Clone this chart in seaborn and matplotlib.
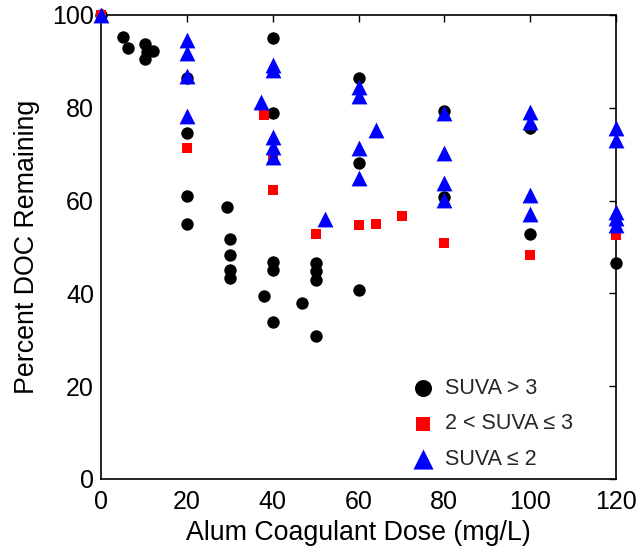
import matplotlib
matplotlib.use("Agg")
import matplotlib.pyplot as plt
import seaborn as sns
import pandas as pd

# SUVA > 3 (black circles)
dose_hi = [0, 5.1, 6.3, 10.3, 10.3, 10.7, 12.1, 20, 20, 20, 20, 29.4, 30, 30, 30, 30,
           38, 40, 40, 40, 40, 40, 46.9, 50, 50, 50, 50, 60, 60, 60, 80, 80, 100, 100, 120]
pct_hi = [100, 95.3, 92.9, 93.8, 90.5, 92.0, 92.2, 86.4, 74.6, 61.0, 55.0, 58.6, 51.7, 48.3, 45.0, 43.3,
          39.4, 33.8, 95.0, 78.9, 46.8, 45.0, 37.9, 46.6, 44.8, 42.9, 30.8, 86.4, 68.1, 40.7, 79.3, 60.8,
          75.6, 52.8, 46.6]

# 2 < SUVA <= 3 (red squares)
dose_mid = [0, 20, 37.9, 40, 40, 50, 60, 64.1, 70.2, 80, 100, 120]
pct_mid = [100, 71.3, 78.4, 62.3, 69.8, 52.8, 54.7, 55.0, 56.7, 50.9, 48.3, 52.6]

# SUVA <= 2 (blue triangles)
dose_lo = [0, 20, 20, 20, 20, 37.3, 40, 40, 40, 40, 40, 52.2, 60, 60, 60, 60, 64.1,
           80, 80, 80, 80, 100, 100, 100, 100, 120, 120, 120, 120, 120]
pct_lo = [100, 94.6, 91.8, 86.9, 78.2, 81.3, 89.2, 88.1, 73.7, 71.6, 69.4, 56.0, 84.4, 82.6, 71.3, 64.8, 75.2,
          78.9, 70.2, 63.8, 60.1, 79.1, 76.9, 61.2, 57.1, 75.6, 73.1, 57.5, 56.3, 54.7]

labels = ["SUVA > 3", "2 < SUVA \u2264 3", "SUVA \u2264 2"]

sns.set_theme(style="white")
plt.rcParams['font.family'] = ['Liberation Sans', 'DejaVu Sans']

fig = plt.figure(figsize=(6.4, 5.54), dpi=100)
ax = fig.add_axes([101/640, 75/554, 515/640, 464/554])

df_hi = pd.DataFrame({"dose": dose_hi, "pct": pct_hi})
df_mid = pd.DataFrame({"dose": dose_mid, "pct": pct_mid})
df_lo = pd.DataFrame({"dose": dose_lo, "pct": pct_lo})

sns.scatterplot(data=df_hi, x="dose", y="pct", ax=ax, color="black", marker="o", s=80,
                linewidth=0, label=labels[0], clip_on=False, zorder=3)
sns.scatterplot(data=df_mid, x="dose", y="pct", ax=ax, color="#ff0000", marker="s", s=55,
                linewidth=0, label=labels[1], clip_on=False, zorder=4)
sns.scatterplot(data=df_lo, x="dose", y="pct", ax=ax, color="#0000ff", marker="^", s=130,
                linewidth=0, label=labels[2], clip_on=False, zorder=5)

ax.set_xlim(0, 120)
ax.set_ylim(0, 100)
ax.set_xticks(range(0, 121, 20))
ax.set_yticks(range(0, 101, 20))
ax.tick_params(direction="in", length=5, width=1, top=True, right=True, labelsize=18,
               colors="black", pad=5)
ax.tick_params(axis="x", pad=8)
for sp in ax.spines.values():
    sp.set_visible(True)
    sp.set_color("black")
    sp.set_linewidth(1.2)

ax.set_xlabel("Alum Coagulant Dose (mg/L)", fontsize=19.3, color="black", labelpad=4)
ax.set_ylabel("Percent DOC Remaining", fontsize=19.3, color="black", labelpad=9)

leg = ax.legend(loc="upper left", bbox_to_anchor=(311/515, (479-378)/464), frameon=False,
                fontsize=15.5, handlelength=1.0, handletextpad=0.55, labelspacing=0.67,
                borderaxespad=0, borderpad=0)
for h, s in zip(leg.legend_handles, [150, 100, 210]):
    h.set_sizes([s])

fig.savefig("out.png", dpi=100)
